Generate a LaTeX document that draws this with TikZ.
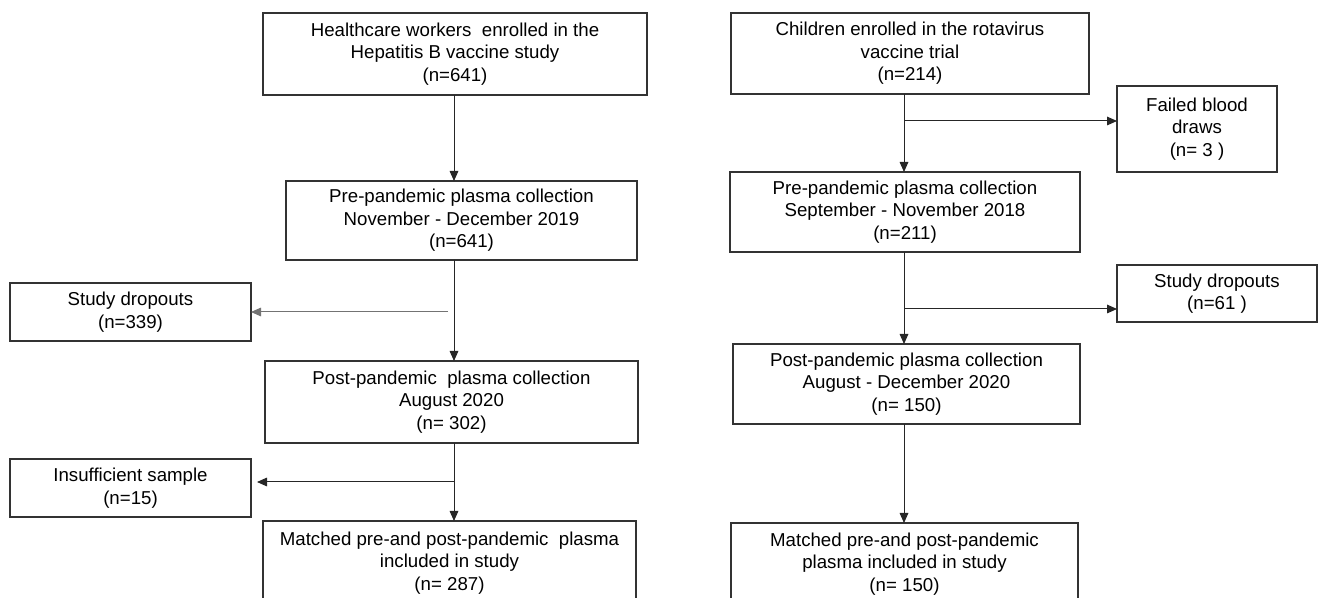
\documentclass[tikz,border=0pt]{standalone}
\usepackage{fontspec}
\setmainfont{Liberation Sans}
\usetikzlibrary{arrows.meta}
\tikzset{
  box/.style={draw=black!80, line width=0.8pt, align=center, inner sep=0pt, outer sep=0pt,
    font=\fontsize{14}{16.9}\selectfont},
  arr/.style={draw=black!85, line width=0.75pt, -{Triangle[length=7.5pt,width=6.5pt]}},
}
\begin{document}
\begin{tikzpicture}[x=0.75pt,y=-0.75pt]
  \clip (0,0) rectangle (1318,598);

  % Healthcare workers
  \node[box,minimum width=288pt,minimum height=61.5pt] (hcw) at (455,54)
    {Healthcare workers~ enrolled in the\\Hepatitis B vaccine study\\(n=641)};
  \node[box,minimum width=263.25pt,minimum height=59.25pt] (hcwpre) at (461.5,220.5)
    {Pre-pandemic plasma collection\\November - December 2019\\(n=641)};
  \node[box,minimum width=180.75pt,minimum height=43.5pt] (hcwdrop) at (130.5,312)
    {Study dropouts\\(n=339)};
  \node[box,minimum width=279.75pt,minimum height=61.5pt] (hcwpost) at (451.5,402)
    {Post-pandemic~ plasma collection\\August 2020\\(n= 302)};
  \node[box,minimum width=180.75pt,minimum height=43.5pt] (hcwinsuf) at (130.5,488)
    {Insufficient sample\\(n=15)};
  \node[box,minimum width=279.75pt,minimum height=63pt] (hcwmatch) at (449.5,563)
    {Matched pre-and post-pandemic~ plasma\\included in study\\(n= 287)};

  % Left flow
  \coordinate (trunkL) at (454,0);
  \coordinate (dropL) at (448,312);
  \coordinate (insufL) at (454,482);
  \draw[arr] (hcw.south -| trunkL) -- (hcwpre.north -| trunkL);
  \draw[arr] (hcwpre.south -| trunkL) -- (hcwpost.north -| trunkL);
  \draw[arr,draw=black!55] (dropL) -- (hcwdrop.east);
  \draw[arr] (hcwpost.south -| trunkL) -- (hcwmatch.north -| trunkL);
  \draw[arr,shorten >=4.5pt] (insufL) -- (hcwinsuf.east |- insufL);

  % Children
  \node[box,minimum width=268.5pt,minimum height=60.75pt] (kid) at (910,53.5)
    {Children enrolled in the rotavirus\\vaccine trial\\(n=214)};
  \node[box,minimum width=120pt,minimum height=64.5pt] (kidfail) at (1197,129)
    {Failed blood\\draws\\(n= 3 )};
  \node[box,minimum width=262.5pt,minimum height=60pt] (kidpre) at (905,212)
    {Pre-pandemic plasma collection\\September - November 2018\\(n=211)};
  \node[box,minimum width=150pt,minimum height=42.75pt] (kiddrop) at (1217,293.5)
    {Study dropouts\\(n=61 )};
  \node[box,minimum width=260.25pt,minimum height=60pt] (kidpost) at (906.5,384)
    {Post-pandemic plasma collection\\August - December 2020\\(n= 150)};
  \node[box,minimum width=260.25pt,minimum height=61.5pt] (kidmatch) at (904.5,564)
    {Matched pre-and post-pandemic\\plasma included in study\\(n= 150)};

  % Right flow
  \coordinate (trunkR) at (904,0);
  \coordinate (failR) at (904,121);
  \coordinate (dropR) at (904,309);
  \draw[arr] (kid.south -| trunkR) -- (kidpre.north -| trunkR);
  \draw[arr] (failR) -- (kidfail.west |- failR);
  \draw[arr] (kidpre.south -| trunkR) -- (kidpost.north -| trunkR);
  \draw[arr] (dropR) -- (kiddrop.west |- dropR);
  \draw[arr] (kidpost.south -| trunkR) -- (kidmatch.north -| trunkR);
\end{tikzpicture}
\end{document}
